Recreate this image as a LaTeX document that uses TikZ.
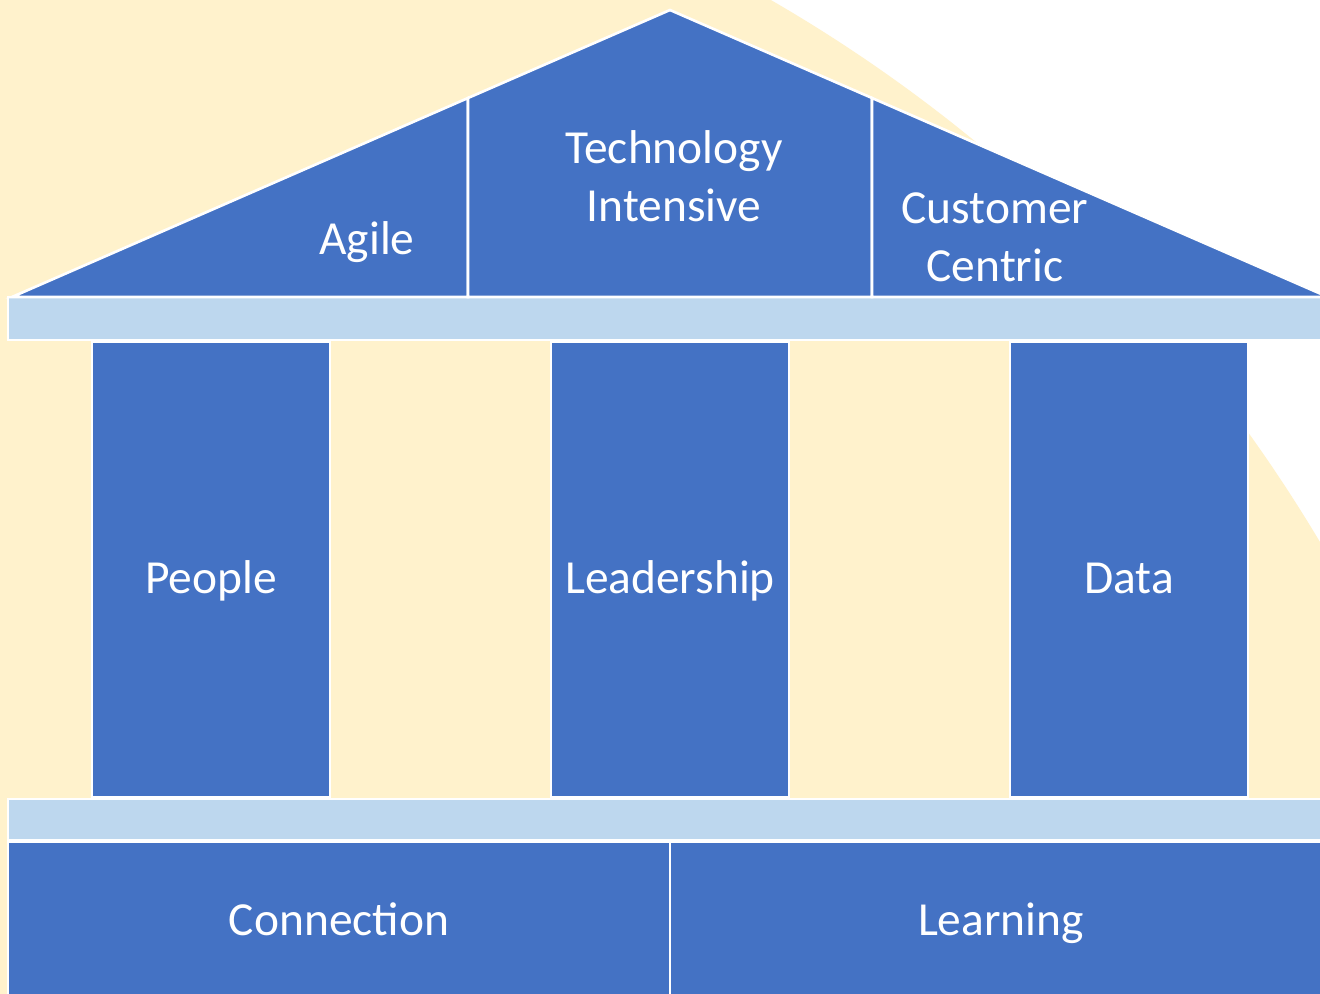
\documentclass[tikz,border=0pt]{standalone}
\usepackage{fontspec}
\setmainfont{Carlito}
\usepackage{xcolor}
\usetikzlibrary{positioning}
\definecolor{cream}{HTML}{FFF2CC}
\definecolor{housblue}{HTML}{4472C4}
\definecolor{beamblue}{HTML}{BDD7EE}
\tikzset{
  part/.style={fill=housblue, draw=white, line width=1.5pt},
  beam/.style={fill=beamblue, draw=white, line width=1.5pt},
  pillar/.style={part, rectangle, minimum width=4.76cm, minimum height=9.1cm, text=white, inner sep=0pt, text height=0.94cm, text depth=0pt},
  base/.style={part, rectangle, minimum width=13.24cm, minimum height=3.16cm, text=white, inner sep=0pt, text height=0.56cm, text depth=0pt},
  word/.style={text=white, align=center, font=\fontsize{27}{33}\selectfont}
}

\begin{document}
\begin{tikzpicture}[x=0.02cm, y=-0.02cm, font=\fontsize{27}{33}\selectfont]
            \useasboundingbox (0,0) rectangle (1320,994);
            % Background
            \begin{scope}
              \clip (0,0) rectangle (1320,994);
              \fill[white] (0,0) rectangle (1320,994);
              \fill[cream] (9,1321) circle [radius=30.5cm];
            \end{scope}

            % Beams
            \draw[beam] (8,297) rectangle (1340,340);
            \draw[beam] (8,799) rectangle (1340,840);

            % Pillars
            \node[pillar] (people) at (211,569.5) {People};
            \node[pillar] (leadership) at (670,569.5) {Leadership};
            \node[pillar] (data) at (1129,569.5) {Data};

            % Foundation
            \node[base] (connection) at (339,921) {Connection};
            \node[base] (learning) at (1001,921) {Learning};

            % Roof
            \draw[part] (12,297) -- (468,98) -- (468,297) -- cycle;
            \draw[part] (468,297) -- (468,98) -- (670,10) -- (872,98) -- (872,297) -- cycle;
            \draw[part] (872,297) -- (872,98) -- (1328,297) -- cycle;

            % Labels
            \node[word, anchor=base] (agile) at (367,254) {Agile};
            \node[word] (tech) at (674,176) {Technology\\Intensive};
            \node[word] (customer) at (995,237) {Customer\\Centric};
\end{tikzpicture}
\end{document}
